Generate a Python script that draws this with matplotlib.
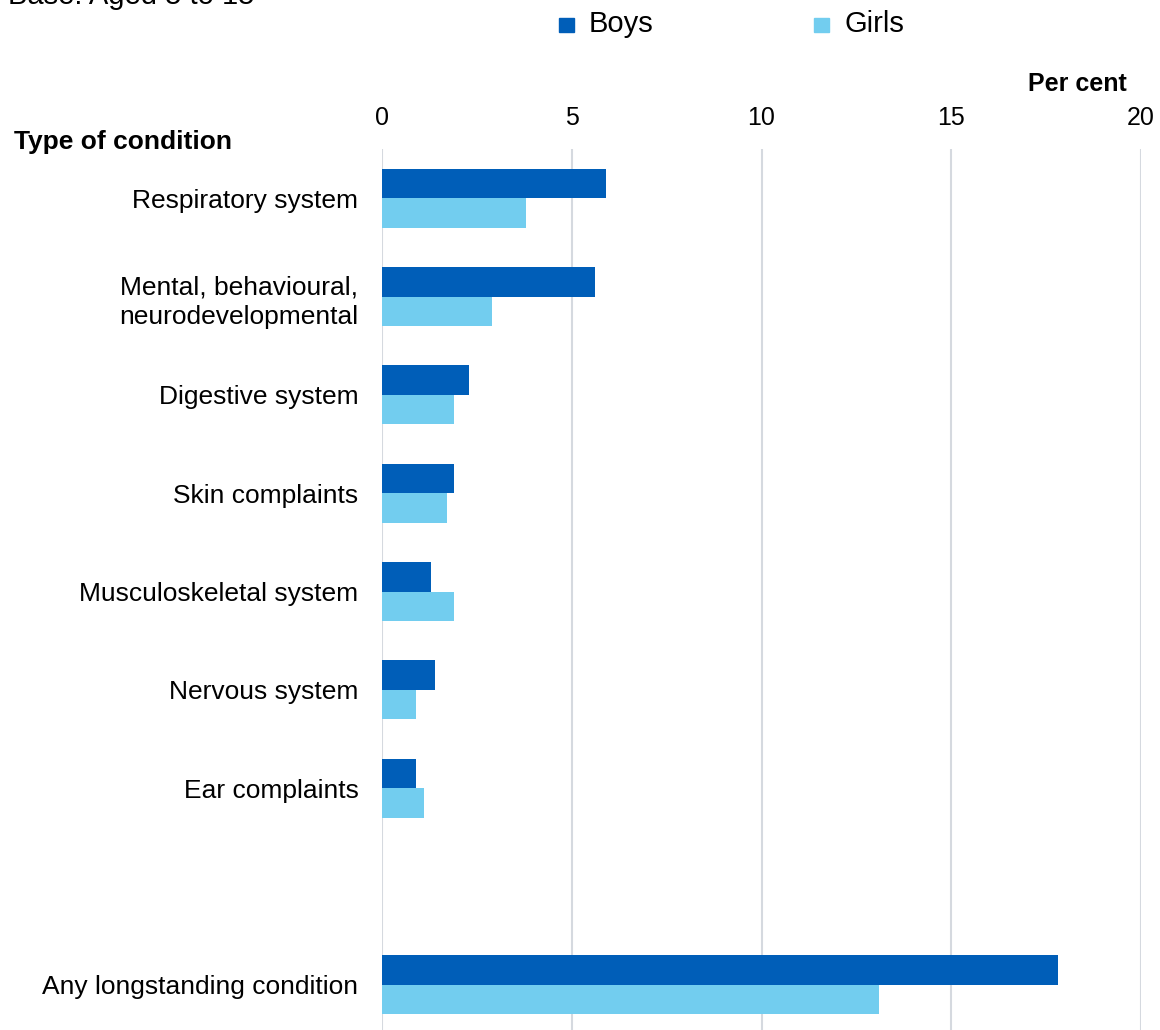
import numpy as np
from matplotlib import pyplot as plt
from matplotlib.patches import Rectangle

plt.rcParams['font.family'] = ['Liberation Sans', 'DejaVu Sans']

# Longstanding conditions, per cent of children aged 5 to 15
conditions = ['Respiratory system', 'Mental, behavioural,\nneurodevelopmental',
              'Digestive system', 'Skin complaints', 'Musculoskeletal system',
              'Nervous system', 'Ear complaints', '', 'Any longstanding condition']
boys = [5.9, 5.6, 2.3, 1.9, 1.3, 1.4, 0.9, np.nan, 17.8]
girls = [3.8, 2.9, 1.9, 1.7, 1.9, 0.9, 1.1, np.nan, 13.1]
ticks = [0, 5, 10, 15, 20]

boys_col = '#005EB8'
girls_col = '#72CDEF'

W, H = 1160, 1030
fig = plt.figure(figsize=(W / 100, H / 100), dpi=100)
ax = fig.add_axes([382 / W, -4 / H, (1141 - 382) / W, (1034 - 149) / H])

y = np.arange(len(conditions))
h = 0.3
ax.barh(y - h / 2, boys, height=h, color=boys_col, label='Boys')
ax.barh(y + h / 2, girls, height=h, color=girls_col, label='Girls')

ax.set_ylim(len(conditions) - 0.5, -0.5)
ax.set_xlim(0, 20)
ax.set_xticks(ticks)
ax.xaxis.tick_top()
ax.tick_params(axis='x', length=0, labelsize=18, pad=14)
ax.set_yticks(y)
ax.set_yticklabels(conditions, fontsize=19, linespacing=1.32)
ax.tick_params(axis='y', length=0, pad=17)
for lbl in ax.get_yticklabels():
    lbl.set_multialignment('right')

ax.grid(axis='x', color='#d5d9df', lw=1.5)
ax.set_axisbelow(True)
for s in ax.spines.values():
    s.set_visible(False)

fig.text(8 / W, 1 - 4 / H, 'Base: Aged 5 to 15', fontsize=21, va='baseline')
fig.text(14 / W, 1 - 142 / H, 'Type of condition', fontsize=19,
         fontweight='bold', va='center')
fig.text(1127 / W, 1 - 84 / H, 'Per cent', fontsize=18,
         fontweight='bold', va='center', ha='right')

# legend: coloured squares with labels across the top
for x0, col, name in [(559, boys_col, 'Boys'), (814, girls_col, 'Girls')]:
    fig.patches.append(Rectangle((x0 / W, 1 - 32 / H), 15 / W, 14 / H,
                                 transform=fig.transFigure, color=col))
    fig.text((x0 + 30) / W, 1 - 24 / H, name, fontsize=21, va='center')

plt.savefig('out.png', dpi=100, facecolor='white')
